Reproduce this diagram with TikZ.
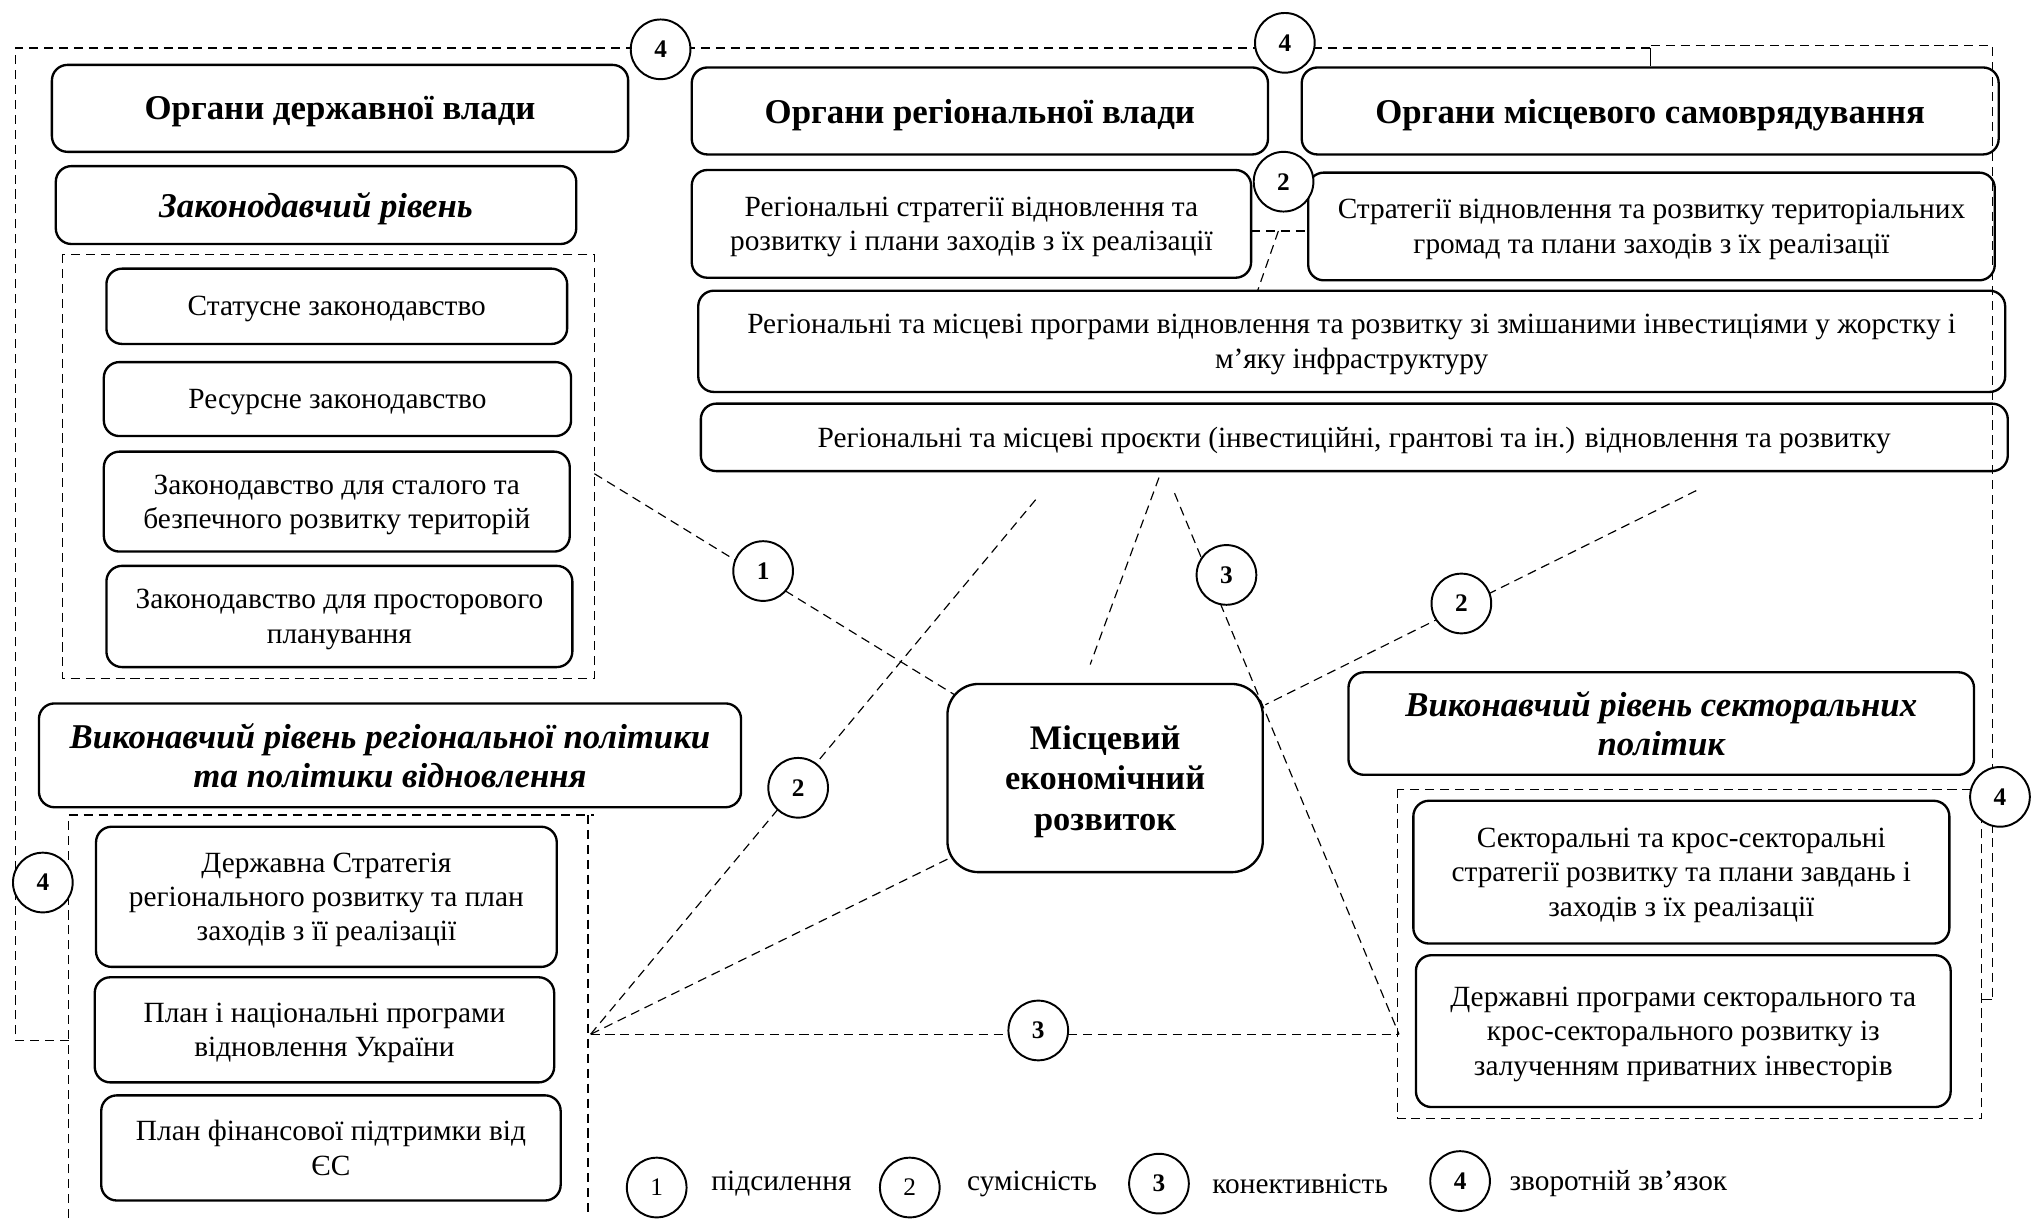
\documentclass[tikz,border=0pt]{standalone}
\usepackage{fontspec}
\setmainfont{Liberation Serif}
\usetikzlibrary{calc}
\tikzset{
  box/.style={draw, line width=1.8pt, rounded corners=12pt, align=center, inner sep=2pt,
    text depth=-3pt, font=\fontsize{22.6}{26.5}\selectfont},
  hbox/.style={box, font=\fontsize{26.8}{31}\selectfont\bfseries},
  ibox/.style={box, font=\fontsize{26.8}{30.5}\selectfont\bfseries\itshape},
  circ/.style={draw, circle, line width=1.5pt, fill=white, minimum size=46pt, inner sep=0pt,
    font=\fontsize{19.5}{19.5}\selectfont\bfseries},
  lcirc/.style={circ, font=\fontsize{19.5}{19.5}\selectfont},
  dl/.style={line width=0.9pt, dash pattern=on 7pt off 4.5pt},
  grp/.style={line width=0.9pt, dash pattern=on 7pt off 4.5pt},
  leg/.style={anchor=west, inner sep=0pt, font=\fontsize{22.6}{26}\selectfont}
}
\begin{document}
\begin{tikzpicture}[x=1pt,y=-1pt]
\useasboundingbox (0,0) rectangle (1568,938.5);
% group frames
\draw[grp] (48,196) rectangle (458,523);
\draw[grp] (53,938.5) -- (53,628) -- (458,628);
\draw[grp] (453,628) -- (453,938.5);
\draw[grp] (1077,608) rectangle (1527,862);
% boxes
\node[hbox, minimum width=444pt, minimum height=67pt] (gov) at (262,83.5) {Органи державної влади};
\node[ibox, minimum width=401pt, minimum height=60pt] (leg) at (243.5,158) {Законодавчий рівень};
\node[box, minimum width=355pt, minimum height=58pt] (l1) at (259.5,236) {Статусне законодавство};
\node[box, minimum width=360pt, minimum height=57pt] (l2) at (260,307.5) {Ресурсне законодавство};
\node[box, minimum width=359pt, minimum height=77pt] (l3) at (259.5,386.5) {Законодавство для сталого та\\безпечного розвитку територій};
\node[box, minimum width=359pt, minimum height=78pt] (l4) at (261.5,475) {Законодавство для просторового\\планування};
\node[ibox, minimum width=541pt, minimum height=80pt] (exr) at (300.5,582) {Виконавчий рівень регіональної політики\\та політики відновлення};
\node[box, minimum width=355pt, minimum height=108pt] (e1) at (251.5,691) {Державна Стратегія\\регіонального розвитку та план\\заходів з її реалізації};
\node[box, minimum width=354pt, minimum height=81pt] (e2) at (250,793.5) {План і національні програми\\відновлення України};
\node[box, minimum width=354pt, minimum height=81pt] (e3) at (255,884.5) {План фінансової підтримки від\\ЄС};
\node[hbox, minimum width=444pt, minimum height=67pt] (reg) at (755,85.5) {Органи регіональної влади};
\node[hbox, minimum width=537pt, minimum height=67pt] (loc) at (1271.5,85.5) {Органи місцевого самоврядування};
\node[box, minimum width=431pt, minimum height=83pt] (rs) at (748.5,172.5) {Регіональні стратегії відновлення та\\розвитку і плани заходів з їх реалізації};
\node[box, minimum width=529pt, minimum height=83pt] (ls) at (1272.5,174.5) {Стратегії відновлення та розвитку територіальних\\громад та плани заходів з їх реалізації};
\node[box, minimum width=1007pt, minimum height=78pt] (prog) at (1041.5,263) {Регіональні та місцеві програми відновлення та розвитку зі змішаними інвестиціями у жорстку і\\м’яку інфраструктуру};
\node[box, minimum width=1007pt, minimum height=52pt] (proj) at (1043.5,337) {Регіональні та місцеві проєкти (інвестиційні, грантові та ін.) відновлення та розвитку};
\node[box, rounded corners=24pt, minimum width=243pt, minimum height=145pt, font=\fontsize{26.5}{31}\selectfont\bfseries] (led) at (851.5,599.5) {Місцевий\\економічний\\розвиток};
\node[ibox, minimum width=482pt, minimum height=79pt] (sec) at (1280,557.5) {Виконавчий рівень секторальних\\політик};
\node[box, minimum width=413pt, minimum height=110pt] (s1) at (1295.5,672) {Секторальні та крос-секторальні\\стратегії розвитку та плани завдань і\\заходів з їх реалізації};
\node[box, minimum width=412pt, minimum height=117pt] (s2) at (1297,794.5) {Державні програми секторального та\\крос-секторального розвитку із\\залученням приватних інвесторів};
% coordinates
\coordinate (p1) at (458,365);  \coordinate (q1) at (735,535);
\coordinate (p2) at (798,385);  \coordinate (hub) at (455,797);
\coordinate (p3) at (1307,378); \coordinate (q3) at (975,543);
\coordinate (p4) at (905,380);  \coordinate (q4) at (1078,797);
\coordinate (q6) at (730,662);
\coordinate (p7) at (893,368);  \coordinate (q7) at (840,512);
\coordinate (m1) at (964,178);  \coordinate (m2) at (1008,178);
\coordinate (m3) at (985,178);  \coordinate (m4) at (969,224);
\coordinate (fl1) at (53,802);  \coordinate (fl2) at (12,802);
\coordinate (fl3) at (12,37);   \coordinate (fm) at (1272,37);
\coordinate (fm2) at (1272,35); \coordinate (fr1) at (1535,35);
\coordinate (fr2) at (1535,770); \coordinate (fr3) at (1527,770);
% connectors
\draw[dl] (p1) -- (q1);
\draw[dl] (p2) -- (hub);
\draw[dl] (p3) -- (q3);
\draw[dl] (p4) -- (q4);
\draw[dl] (hub) -- (q4);
\draw[dl] (q6) -- (hub);
\draw[dl] (p7) -- (q7);
\draw[dl] (m1) -- (m2);
\draw[dl] (m3) -- (m4);
\draw[dl] (fl1) -- (fl2) -- (fl3) -- (fm);
\draw[line width=0.9pt] (fm) -- (loc.north -| fm);
\draw[dl] (fm2) -- (fr1) -- (fr2);
\draw[line width=0.9pt] (fr2) -- (fr3);
% circles
\node[circ] (c4a) at (509,38) {4};
\node[circ] (c4b) at (990,33) {4};
\node[circ] (c2a) at (989,140) {2};
\node[circ] (c1) at (588,440) {1};
\node[circ] (c3a) at (945,443) {3};
\node[circ] (c2b) at (1126,465) {2};
\node[circ] (c2c) at (615,607) {2};
\node[circ] (c4c) at (33,680) {4};
\node[circ] (c4d) at (1541,614) {4};
\node[circ] (c3b) at (800,794) {3};
% legend
\node[lcirc] (k1) at (506,915) {1};
\node[leg] (t1) at (548,912) {підсилення};
\node[lcirc] (k2) at (701,915) {2};
\node[leg] (t2) at (745,912) {сумісність};
\node[circ] (k3) at (893,912) {3};
\node[leg] (t3) at (934,912) {конективність};
\node[circ] (k4) at (1125,910) {4};
\node[leg] (t4) at (1163,912) {зворотній зв’язок};
\end{tikzpicture}
\end{document}
